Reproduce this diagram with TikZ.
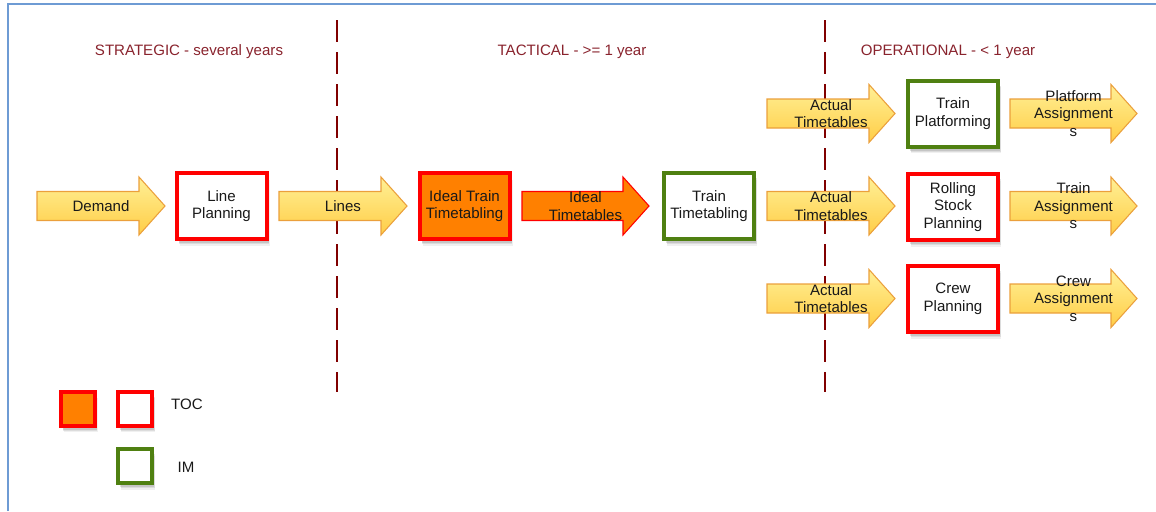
\documentclass[tikz,border=0pt]{standalone}
\usepackage{fontspec}
\setmainfont{Liberation Sans}
\usetikzlibrary{shadows}
\definecolor{tocred}{RGB}{255,0,0}
\definecolor{imgreen}{RGB}{79,128,17}
\definecolor{tocorange}{RGB}{255,128,0}
\definecolor{headred}{RGB}{137,35,45}
\definecolor{divred}{RGB}{128,0,0}
\definecolor{frameblue}{RGB}{110,155,212}
\definecolor{arrtop}{RGB}{255,240,150}
\definecolor{arrbot}{RGB}{255,205,70}
\definecolor{arredge}{RGB}{235,160,60}
\definecolor{txt}{RGB}{25,25,25}
\tikzset{
  softshadow/.style={
    drop shadow={shadow xshift=2.5pt, shadow yshift=-5pt, opacity=0.12},
    drop shadow={shadow xshift=2pt, shadow yshift=-4pt, opacity=0.18},
    drop shadow={shadow xshift=1.5pt, shadow yshift=-3pt, opacity=0.25}},
  procbox/.style={draw=tocred, line width=3pt, fill=white, minimum width=67.5pt, minimum height=49.5pt,
    inner sep=0pt, align=center, text=txt, font=\fontsize{11.3}{13.2}\selectfont, softshadow},
  imbox/.style={procbox, draw=imgreen},
  fullbox/.style={procbox, fill=tocorange},
  legbox/.style={draw=tocred, line width=3pt, fill=white, minimum size=25.5pt, inner sep=0pt, softshadow},
  yarrow/.style={draw=arredge, line width=0.8pt, line join=miter, top color=arrtop, bottom color=arrbot},
  oarrow/.style={draw=tocred, line width=0.8pt, line join=miter, fill=tocorange},
  arrtext/.style={align=center, text=txt, inner sep=0pt, font=\fontsize{11.3}{13.2}\selectfont},
  header/.style={text=headred, font=\fontsize{11.3}{13}\selectfont},
  divider/.style={draw=divred, line width=2pt, dash pattern=on 16.5pt off 7.5pt},
  legtext/.style={text=txt, font=\fontsize{11.3}{13}\selectfont}
}
% #1 name, #2 x start, #3 x tip, #4 y centre, #5 style, #6 text
\newcommand\blockarrow[6]{%
  \path[#5] (#2,#4-14.5) -- (#3-26,#4-14.5) -- (#3-26,#4-29) -- (#3,#4)
     -- (#3-26,#4+29) -- (#3-26,#4+14.5) -- (#2,#4+14.5) -- cycle;
  \node[arrtext] (#1) at ({(#2+#3)/2},#4) {#6};
}
\begin{document}
\begin{tikzpicture}[x=0.75pt,y=-0.75pt]
\useasboundingbox (0,0) rectangle (1156,511);
% frame
\draw[frameblue, line width=1.1pt] (8,511) -- (8,4) -- (1160,4);
% headers
\node[header] (hs) at (189,52) {STRATEGIC - several years};
\node[header] (ht) at (572,52) {TACTICAL - >= 1 year};
\node[header] (ho) at (948,52) {OPERATIONAL - < 1 year};
% dividers
\coordinate (d1t) at (337,20); \coordinate (d1b) at (337,392);
\coordinate (d2t) at (825,20); \coordinate (d2b) at (825,392);
\draw[divider] (d1t) -- (d1b);
\draw[divider] (d2t) -- (d2b);
% block arrows
\blockarrow{demand}{37}{165}{206}{yarrow}{Demand}
\blockarrow{lines}{279}{407}{206}{yarrow}{Lines}
\blockarrow{idealtt}{522}{649}{206}{oarrow}{Ideal\\Timetables}
\blockarrow{act1}{767}{895}{113.5}{yarrow}{Actual\\Timetables}
\blockarrow{act2}{767}{895}{206}{yarrow}{Actual\\Timetables}
\blockarrow{act3}{767}{895}{298.5}{yarrow}{Actual\\Timetables}
\blockarrow{out1}{1010}{1137}{113.5}{yarrow}{Platform\\Assignment\\s}
\blockarrow{out2}{1010}{1137}{206}{yarrow}{Train\\Assignment\\s}
\blockarrow{out3}{1010}{1137}{298.5}{yarrow}{Crew\\Assignment\\s}
% boxes
\node[procbox] (lp) at (221.5,206) {Line\\Planning};
\node[fullbox] (itt) at (464.5,206) {Ideal Train\\Timetabling};
\node[imbox] (tt) at (709,206) {Train\\Timetabling};
\node[imbox] (tp) at (953,113.5) {Train\\Platforming};
\node[procbox] (rs) at (953,207) {Rolling\\Stock\\Planning};
\node[procbox] (cp) at (953,299) {Crew\\Planning};
% legend
\node[legbox, fill=tocorange] (l1) at (77.5,408.5) {};
\node[legbox] (l2) at (135,408.5) {};
\node[legbox, draw=imgreen] (l3) at (135,466) {};
\node[legtext] (ltoc) at (187,404) {TOC};
\node[legtext] (lim) at (186,467) {IM};
\end{tikzpicture}
\end{document}
